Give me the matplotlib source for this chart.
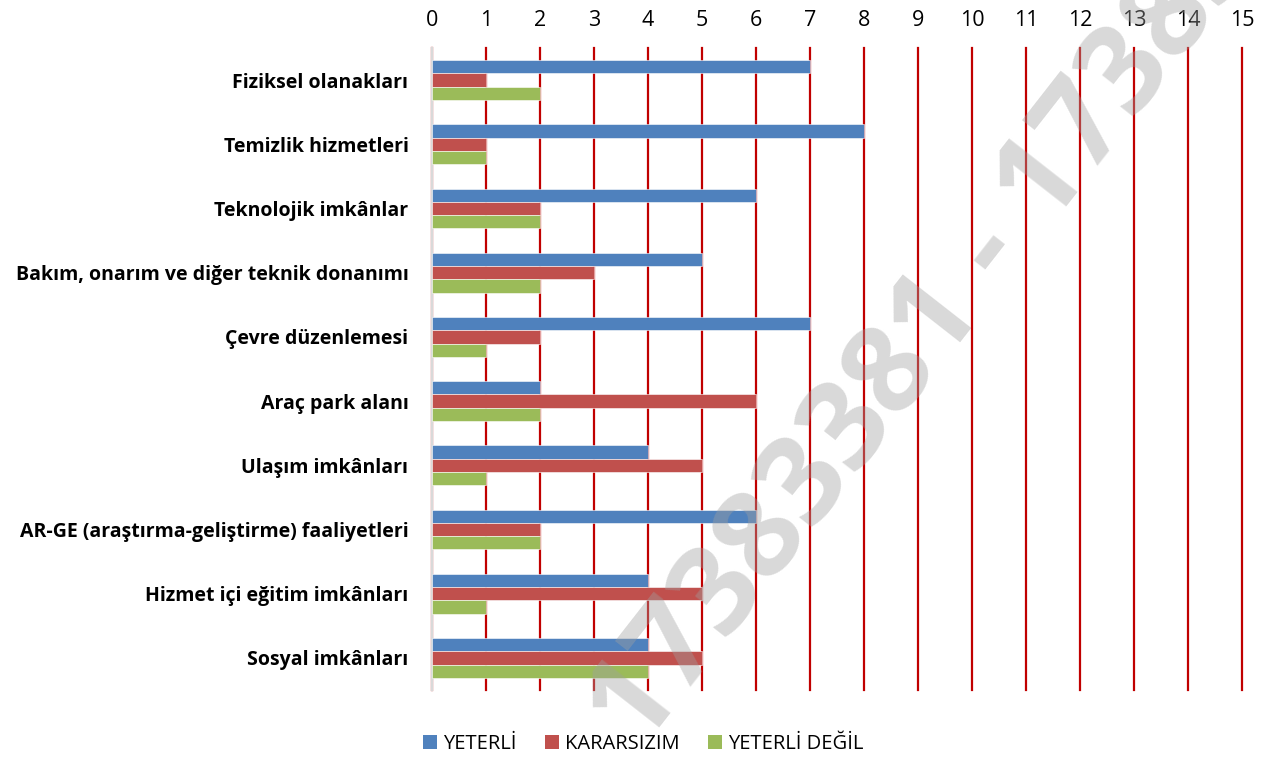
import numpy as np
import matplotlib
matplotlib.use('Agg')
import matplotlib.pyplot as plt
from matplotlib.patches import Patch

plt.rcParams['font.family'] = ['Open Sans', 'DejaVu Sans']

categories = ['Fiziksel olanakları', 'Temizlik hizmetleri', 'Teknolojik imkânlar',
              'Bakım, onarım ve diğer teknik donanımı', 'Çevre düzenlemesi',
              'Araç park alanı', 'Ulaşım imkânları',
              'AR-GE (araştırma-geliştirme) faaliyetleri',
              'Hizmet içi eğitim imkânları', 'Sosyal imkânları']
yeterli = [7, 8, 6, 5, 7, 2, 4, 6, 4, 4]
kararsizim = [1, 1, 2, 3, 2, 6, 5, 2, 5, 5]
yeterli_degil = [2, 1, 2, 2, 1, 2, 1, 2, 1, 4]
series_names = ['YETERLİ', 'KARARSIZIM', 'YETERLİ DEĞİL']
colors = ['#4F81BD', '#C0504D', '#9BBB59']
xticks = list(range(0, 16))

fig = plt.figure(figsize=(12.74, 7.61), dpi=100)
ax = fig.add_axes([0.3391, 0.0933, 0.6358, 0.8436])

y = np.arange(len(categories))
h = 0.207
for k, vals in enumerate([yeterli, kararsizim, yeterli_degil]):
    ax.barh(y + (k - 1) * h, vals, height=h, color=colors[k],
            edgecolor='white', linewidth=0.4, zorder=3)

ax.set_ylim(len(categories) - 0.5, -0.5)
ax.set_xlim(0, 15)
ax.set_xticks(xticks)
ax.set_yticks(y)
ax.set_yticklabels(categories, fontsize=14, fontweight='bold')
ax.xaxis.tick_top()
ax.tick_params(axis='x', length=0, pad=12, labelsize=15.5)
ax.tick_params(axis='y', length=0, pad=17)
ax.set_axisbelow(True)
ax.grid(axis='x', color='#C00000', linewidth=1.6)
ax.grid(axis='y', visible=False)
for gl in ax.get_xgridlines():
    gl.set_clip_on(False)
for s in ['top', 'right', 'bottom']:
    ax.spines[s].set_visible(False)
ax.spines['left'].set_color('#D9D9D9')
ax.spines['left'].set_linewidth(1.6)

handles = [Patch(facecolor=c, label=n) for c, n in zip(colors, series_names)]
fig.legend(handles=handles, loc='center', bbox_to_anchor=(0.505, 0.022), ncol=3,
           frameon=False, fontsize=14.5, handlelength=0.7, handleheight=0.7,
           handletextpad=0.3, columnspacing=1.4)

# watermark
fig.text(990 / 1274, 1 - 252 / 761, '17383381 - 17383381', fontsize=88,
         fontweight='bold', color='#A0A0A0', alpha=0.4, rotation=52,
         rotation_mode='anchor', ha='center', va='center', zorder=10)

fig.savefig('out.png', dpi=100)
